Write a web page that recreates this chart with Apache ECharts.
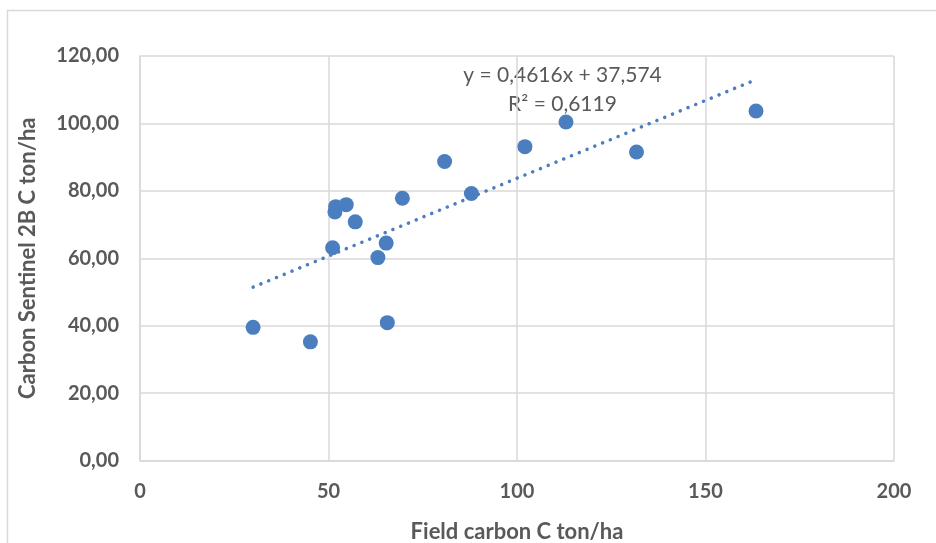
<!DOCTYPE html>
<html>
<head>
<meta charset="utf-8">
<script src="https://cdn.jsdelivr.net/npm/echarts@6/dist/echarts.min.js"></script>
<style>
  html, body { margin: 0; padding: 0; background: #fff; }
  #chart { width: 936px; height: 543px; }
</style>
</head>
<body>
<div id="chart"></div>
<script>
// 散点数据 (Field carbon, Carbon Sentinel 2B)
const fieldC = [30.0, 45.2, 51.1, 51.9, 51.7, 54.7, 57.1, 63.1, 65.3, 65.6, 69.6, 80.8, 87.9, 102.1, 113.0, 131.7, 163.4];
const sentinelC = [39.5, 35.2, 63.1, 75.3, 73.7, 75.9, 70.8, 60.2, 64.5, 40.9, 77.8, 88.7, 79.2, 93.1, 100.4, 91.5, 103.7];

// 趋势线 (Excel linear trendline)
const slope = 0.4616;
const intercept = 37.574;
const r2 = 0.6119;

const xTicks = [0, 50, 100, 150, 200];
const yTicks = [0, 20, 40, 60, 80, 100, 120];

const pointColor = '#4a7ebf';
const textColor = '#595959';
const gridColor = '#d9d9d9';

function comma(v, d) {
    return v.toFixed(d).replace('.', ',');
}

var points = fieldC.map(function (x, i) { return [x, sentinelC[i]]; });
var xMin = Math.min.apply(null, fieldC);
var xMax = Math.max.apply(null, fieldC);
var trend = [[xMin, slope * xMin + intercept], [xMax, slope * xMax + intercept]];

var myChart = echarts.init(document.getElementById('chart'));
var option = {
    animation: false,
    grid: { left: 140, right: 42, top: 56, bottom: 82.5, outerBoundsMode: 'none' },
    xAxis: {
        type: 'value',
        min: xTicks[0],
        max: xTicks[xTicks.length - 1],
        interval: 50,
        name: 'Field carbon C ton/ha',
        nameLocation: 'middle',
        nameGap: 60,
        nameTextStyle: { fontFamily: 'Lato', fontWeight: 'bold', fontSize: 22, color: textColor },
        axisLine: { lineStyle: { color: gridColor, width: 1.5 } },
        axisTick: { show: false },
        axisLabel: { margin: 21, fontFamily: 'Lato', fontWeight: 'bold', fontSize: 20, color: textColor },
        splitLine: { lineStyle: { color: gridColor, width: 1.5 } }
    },
    yAxis: {
        type: 'value',
        min: yTicks[0],
        max: yTicks[yTicks.length - 1],
        interval: 20,
        name: 'Carbon Sentinel 2B C ton/ha',
        nameLocation: 'middle',
        nameGap: 101,
        nameTextStyle: { fontFamily: 'Lato', fontWeight: 'bold', fontSize: 22, color: textColor },
        axisLine: { show: true, lineStyle: { color: gridColor, width: 1.5 } },
        axisTick: { show: false },
        axisLabel: {
            margin: 21, fontFamily: 'Lato', fontWeight: 'bold', fontSize: 20, color: textColor,
            formatter: function (v) { return comma(v, 2); }
        },
        splitLine: { lineStyle: { color: gridColor, width: 1.5 } }
    },
    graphic: [
        {   // 外框
            type: 'rect', silent: true,
            shape: { x: 7.5, y: 10.5, width: 940, height: 540 },
            style: { fill: 'none', stroke: '#d9d9d9', lineWidth: 1.5 }
        },
        {
            type: 'text', x: 562.5, y: 75.5, silent: true,
            style: {
                text: 'y = ' + comma(slope, 4) + 'x + ' + comma(intercept, 3),
                fontFamily: 'Lato', fontSize: 21, fill: textColor,
                align: 'center', verticalAlign: 'middle'
            }
        },
        {
            type: 'text', x: 562.5, y: 104.5, silent: true,
            style: {
                text: 'R² = ' + comma(r2, 4),
                fontFamily: 'Lato', fontSize: 21, fill: textColor,
                align: 'center', verticalAlign: 'middle'
            }
        }
    ],
    series: [
        {
            type: 'line',
            data: trend,
            symbol: 'none',
            z: 1,
            lineStyle: { color: pointColor, width: 3.5, type: [0.1, 8.3], cap: 'round' }
        },
        {
            type: 'scatter',
            data: points,
            symbolSize: 15,
            z: 2,
            itemStyle: { color: pointColor, opacity: 1 }
        }
    ]
};
myChart.setOption(option);
</script>
</body>
</html>
